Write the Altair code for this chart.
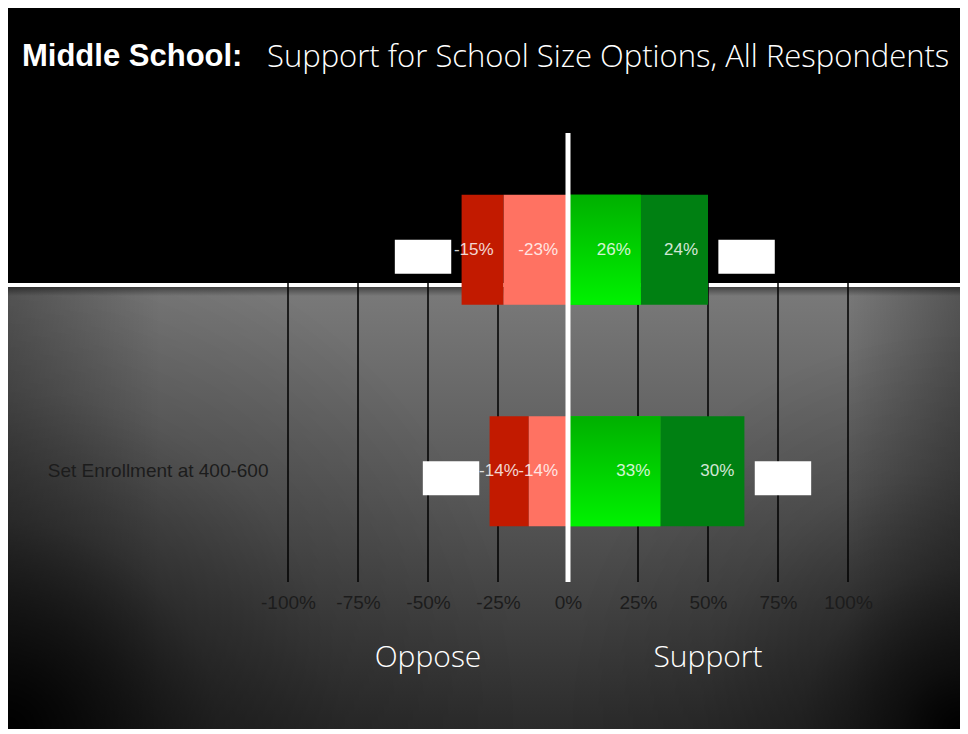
import altair as alt
import pandas as pd

# ---------------- data ----------------
categories = ["Option A", "Set Enrollment at 400-600"]
strongly_oppose = [-15, -14]
oppose = [-23, -14]
support = [26, 33]
strongly_support = [24, 30]
segment_names = ["Strongly oppose", "Oppose", "Support", "Strongly support"]
segment_colors = ["#C21A00", "#FF7262", "#00D000", "#008012"]
tick_values = [-100, -75, -50, -25, 0, 25, 50, 75, 100]
grid_values = [-100, -75, -50, -25, 25, 50, 75, 100]
side_labels = ["Oppose", "Support"]
side_positions = [-50, 50]
title_bold = "Middle School:"
title_rest = "Support for School Size Options, All Respondents"

rows = []
for i, cat in enumerate(categories):
    so, o, s, ss = strongly_oppose[i], oppose[i], support[i], strongly_support[i]
    segs = [
        (segment_names[0], o + so, o, so),
        (segment_names[1], o, 0, o),
        (segment_names[2], 0, s, s),
        (segment_names[3], s, s + ss, ss),
    ]
    for name, a, b, v in segs:
        rows.append({"category": cat, "segment": name, "start": a, "end": b,
                     "label": f"{v}%", "label_x": max(a, b)})
bars = pd.DataFrame(rows)

totals = pd.DataFrame({
    "category": categories + categories,
    "side": [-1, -1, 1, 1],
    "total": [strongly_oppose[i] + oppose[i] for i in range(2)]
             + [support[i] + strongly_support[i] for i in range(2)],
})

sides = pd.DataFrame({"label": side_labels, "pos": side_positions})
grid = pd.DataFrame({"tick": grid_values})

# ---------------- layout ----------------
W, H = 560, 443
LEFT, TOP, RIGHT, BOTTOM = 280, 131, 112, 147
X0, X1 = -LEFT, W + RIGHT          # chart edges in plot coordinates
GRAY_TOP, GRAY_BOTTOM = 148, H + BOTTOM

FONT = "Liberation Sans"
LIGHT = "Open Sans"

xscale = alt.Scale(domain=[-100, 100], nice=False, zero=False)
xaxis = alt.Axis(values=tick_values, labelExpr="datum.value + '%'", grid=False,
                 domain=False, ticks=False, labelFont=FONT, labelFontSize=19,
                 labelColor="#1c1c1c", labelPadding=11, labelOverlap=False,
                 labelFlush=False, title=None, zindex=1)
yscale = alt.Scale(domain=categories, paddingInner=0, paddingOuter=0)
yaxis = alt.Axis(values=[categories[1]], grid=False, domain=False, ticks=False,
                 labelFont=FONT, labelFontSize=19, labelColor="#1c1c1c",
                 labelPadding=20, labelLimit=400, title=None, zindex=1)


def X(field):
    return alt.X(field, type="quantitative", scale=xscale, axis=xaxis)


def Y():
    return alt.Y("category", type="nominal", scale=yscale, axis=yaxis)


one = alt.Data(values=[{"k": 1}])

# background pieces
base_grad = alt.LinearGradient(
    gradient="linear", x1=0, y1=0, x2=0, y2=1,
    stops=[alt.GradientStop(offset=0, color="#7a7a7a"),
           alt.GradientStop(offset=0.5, color="#555555"),
           alt.GradientStop(offset=1, color="#2b2b2b")])
gray = alt.Chart(one).mark_rect(color=base_grad).encode(
    x=alt.value(X0), x2=alt.value(X1), y=alt.value(GRAY_TOP), y2=alt.value(GRAY_BOTTOM))

edge_grad = alt.LinearGradient(
    gradient="linear", x1=0, y1=0, x2=1, y2=0,
    stops=[alt.GradientStop(offset=0, color="rgba(0,0,0,0.28)"),
           alt.GradientStop(offset=0.16, color="rgba(0,0,0,0)"),
           alt.GradientStop(offset=0.88, color="rgba(0,0,0,0)"),
           alt.GradientStop(offset=1, color="rgba(0,0,0,0.3)")])
edges = alt.Chart(one).mark_rect(color=edge_grad).encode(
    x=alt.value(X0), x2=alt.value(X1), y=alt.value(GRAY_TOP), y2=alt.value(GRAY_BOTTOM))


def corner_grad(strength):
    return alt.RadialGradient(
        gradient="radial", x1=0.5, y1=0.5, r1=0, x2=0.5, y2=0.5, r2=0.5,
        stops=[alt.GradientStop(offset=0, color="rgba(0,0,0,1)"),
               alt.GradientStop(offset=0.15, color=f"rgba(0,0,0,{0.72 * strength})"),
               alt.GradientStop(offset=0.4, color=f"rgba(0,0,0,{0.32 * strength})"),
               alt.GradientStop(offset=0.65, color=f"rgba(0,0,0,{0.12 * strength})"),
               alt.GradientStop(offset=1, color="rgba(0,0,0,0)")])


RL, RR = 520, 400
corner_l = alt.Chart(one).mark_rect(color=corner_grad(1.0)).encode(
    x=alt.value(X0 - RL), x2=alt.value(X0 + RL),
    y=alt.value(GRAY_BOTTOM - RL), y2=alt.value(GRAY_BOTTOM + RL))
corner_r = alt.Chart(one).mark_rect(color=corner_grad(0.9)).encode(
    x=alt.value(X1 - RR), x2=alt.value(X1 + RR),
    y=alt.value(GRAY_BOTTOM - RR), y2=alt.value(GRAY_BOTTOM + RR))
# black band above the gray area (hides vignette overflow)
top_band = alt.Chart(one).mark_rect(color="black").encode(
    x=alt.value(X0), x2=alt.value(X1), y=alt.value(-TOP), y2=alt.value(GRAY_TOP))

shadow_grad = alt.LinearGradient(
    gradient="linear", x1=0, y1=0, x2=0, y2=1,
    stops=[alt.GradientStop(offset=0, color="rgba(0,0,0,0.45)"),
           alt.GradientStop(offset=1, color="rgba(0,0,0,0)")])
shadow = alt.Chart(one).mark_rect(color=shadow_grad).encode(
    x=alt.value(X0), x2=alt.value(X1), y=alt.value(GRAY_TOP), y2=alt.value(GRAY_TOP + 9))

white_line = alt.Chart(one).mark_rect(color="white").encode(
    x=alt.value(X0), x2=alt.value(X1), y=alt.value(GRAY_TOP - 4), y2=alt.value(GRAY_TOP))

grid_rules = alt.Chart(grid).mark_rule(color="black", strokeWidth=1.5).encode(
    x=X("tick"), y=alt.value(0), y2=alt.value(H))

# bars
bar_layer = alt.Chart(bars).mark_bar(size=110).encode(
    x=X("start"), x2="end", y=Y(),
    color=alt.Color("segment:N", scale=alt.Scale(domain=segment_names, range=segment_colors),
                    legend=None))

green_grad = alt.LinearGradient(
    gradient="linear", x1=0, y1=0, x2=0, y2=1,
    stops=[alt.GradientStop(offset=0, color="#00B000"),
           alt.GradientStop(offset=1, color="#00F200")])
green_layer = alt.Chart(bars).transform_filter(
    alt.datum.segment == segment_names[2]
).mark_bar(size=110, color=green_grad).encode(x=X("start"), x2="end", y=Y())

boxes = alt.Chart(totals).transform_calculate(
    box_a="datum.total + datum.side * 3.7",
    box_b="datum.total + datum.side * 23.85",
).mark_bar(size=34, yOffset=7, color="white").encode(x=X("box_a"), x2="box_b", y=Y())

labels = alt.Chart(bars).mark_text(
    align="right", baseline="middle", dx=-10, font=FONT, fontSize=17,
    color="white", opacity=0.82
).encode(x=X("label_x"), y=Y(), text="label:N")

zero_line = alt.Chart(one).mark_rule(color="white", strokeWidth=5).encode(
    x=alt.datum(0, scale=xscale, axis=xaxis, type="quantitative"),
    y=alt.value(-6), y2=alt.value(H))

side_text = alt.Chart(sides).mark_text(
    align="center", baseline="alphabetic", font=LIGHT, fontWeight=300,
    fontSize=30, color="white"
).encode(x=X("pos"), y=alt.value(528), text="label:N")

t1 = alt.Chart(one).mark_text(
    align="left", baseline="alphabetic", font=FONT, fontWeight="bold",
    fontSize=31, color="white", text=title_bold
).encode(x=alt.value(22 - 288), y=alt.value(66 - 139))
t2 = alt.Chart(one).mark_text(
    align="left", baseline="alphabetic", font=LIGHT, fontWeight=300,
    fontSize=31, color="white", text=title_rest
).encode(x=alt.value(267 - 288), y=alt.value(67 - 139))

chart = alt.layer(
    gray, edges, corner_l, corner_r, top_band, shadow, white_line, grid_rules,
    bar_layer, green_layer, boxes, labels, zero_line, side_text, t1, t2
).resolve_scale(x="shared", y="shared").properties(
    width=W, height=H, background="black",
    padding={"left": LEFT, "top": TOP, "right": RIGHT, "bottom": BOTTOM},
    autosize=alt.AutoSizeParams(type="none"),
).configure_view(stroke=None)

chart.save("out.html", embed_options={"renderer": "svg", "actions": False})
